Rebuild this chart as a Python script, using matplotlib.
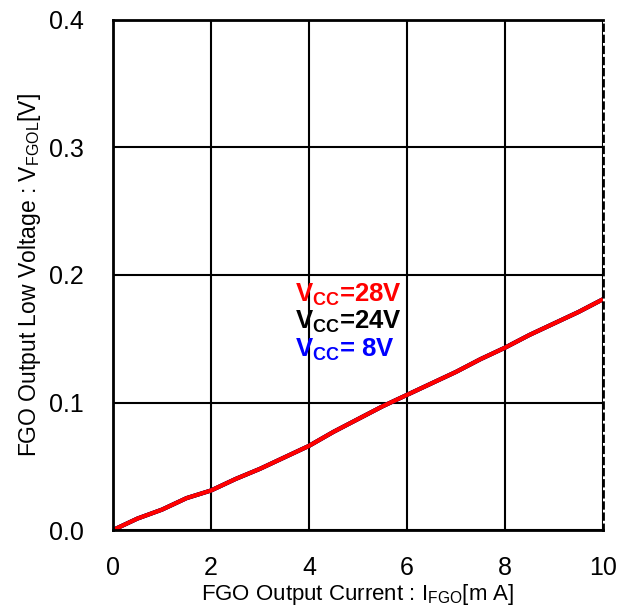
import matplotlib.pyplot as plt

plt.rcParams['font.family'] = ['Liberation Sans', 'DejaVu Sans']
plt.rcParams['mathtext.fontset'] = 'custom'
plt.rcParams['mathtext.rm'] = 'Liberation Sans'
plt.rcParams['mathtext.bf'] = 'Liberation Sans:bold'
plt.rcParams['xtick.major.pad'] = 19
plt.rcParams['ytick.major.pad'] = 21
plt.rcParams['xtick.major.size'] = 0
plt.rcParams['ytick.major.size'] = 0

# output current [mA]
i_fgo = [0, 0.5, 1.0, 1.5, 2.0, 2.5, 3.0, 3.5, 4.0, 4.5, 5.0,
         5.5, 6.0, 6.5, 7.0, 7.5, 8.0, 8.5, 9.0, 9.5, 10.0]
# output low voltage [V], three supply voltages (curves overlap)
v_8v = [0, 0.009, 0.016, 0.025, 0.031, 0.040, 0.048, 0.057, 0.066, 0.077, 0.087,
        0.097, 0.106, 0.115, 0.124, 0.134, 0.143, 0.153, 0.162, 0.171, 0.181]
v_24v = [0, 0.009, 0.016, 0.025, 0.031, 0.040, 0.048, 0.057, 0.066, 0.077, 0.087,
         0.097, 0.106, 0.115, 0.124, 0.134, 0.143, 0.153, 0.162, 0.171, 0.181]
v_28v = [0, 0.009, 0.016, 0.025, 0.031, 0.040, 0.048, 0.057, 0.066, 0.077, 0.087,
         0.097, 0.106, 0.115, 0.124, 0.134, 0.143, 0.153, 0.162, 0.171, 0.181]

xticks = [0, 2, 4, 6, 8, 10]
yticks = [0.0, 0.1, 0.2, 0.3, 0.4]

fig = plt.figure(figsize=(6.29, 6.15), dpi=100)
ax = fig.add_axes([0.1797, 0.1382, 0.779, 0.8293])

ax.plot(i_fgo, v_8v, color='blue', lw=3)
ax.plot(i_fgo, v_24v, color='black', lw=3)
ax.plot(i_fgo, v_28v, color='red', lw=3)

ax.set_xlim(0, 10)
ax.set_ylim(0, 0.4)
ax.set_xticks(xticks)
ax.set_xticklabels([str(t) for t in xticks])
ax.set_yticks(yticks)
ax.set_yticklabels(['%.1f' % t for t in yticks])
ax.tick_params(labelsize=18)
ax.grid(True, color='black', lw=1.5)
ax.set_axisbelow(True)

for s in ['left', 'bottom', 'top']:
    ax.spines[s].set_linewidth(2)
ax.spines['right'].set_linewidth(2)
ax.spines['right'].set_linestyle((0, (2, 2)))

ax.set_xlabel(r'FGO Output Current : I$_{\mathrm{FGO}}$[m A]', fontsize=16, labelpad=1)
ax.set_ylabel(r'FGO Output Low Voltage : V$_{\mathrm{FGOL}}$[V]', fontsize=16.5, labelpad=4)

ax.text(3.71, 0.184, r'$\mathbf{V_{CC}}$=28V', color='red', fontsize=18.5,
        fontweight='bold', va='center')
ax.text(3.71, 0.163, r'$\mathbf{V_{CC}}$=24V', color='black', fontsize=18.5,
        fontweight='bold', va='center')
ax.text(3.71, 0.141, r'$\mathbf{V_{CC}}$= 8V', color='blue', fontsize=18.5,
        fontweight='bold', va='center')

fig.savefig('out.png', dpi=100)
